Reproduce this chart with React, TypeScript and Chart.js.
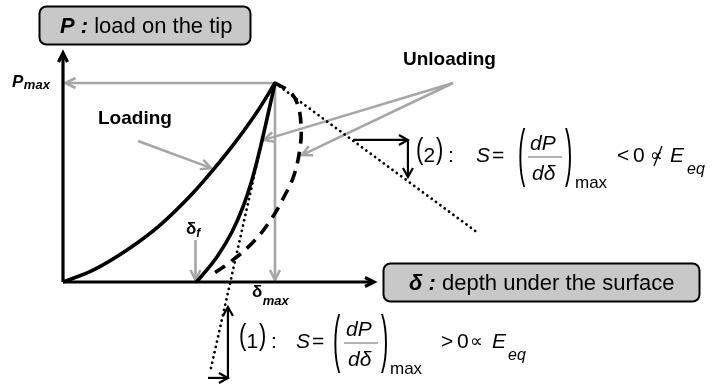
import React, { useEffect, useRef } from "react";
import { Chart, registerables } from "chart.js";
Chart.register(...registerables);

// ---- data (δ / δmax , P / Pmax) ----
const loadingDelta = [0, 0.142, 0.302, 0.458, 0.613, 0.708, 0.821, 0.915, 1.0];
const loadingP = [0, 0.06, 0.161, 0.286, 0.447, 0.563, 0.714, 0.854, 1.0];

const unloadDelta = [0.63, 0.726, 0.797, 0.849, 0.887, 0.92, 0.961, 1.0];
const unloadP = [0, 0.126, 0.251, 0.377, 0.497, 0.628, 0.814, 1.0];

const dashedDelta = [1.0, 1.071, 1.108, 1.123, 1.118, 1.09, 1.047, 0.986, 0.906, 0.802, 0.693];
const dashedP = [1.0, 0.955, 0.889, 0.779, 0.673, 0.538, 0.437, 0.322, 0.211, 0.111, 0.03];

const tangent1Delta = [1.0, 0.693];
const tangent1P = [1.0, -0.457];

const tangent2Delta = [1.0, 1.958];
const tangent2P = [1.0, 0.246];

// arrows: [δ1, P1, δ2, P2]  (head at second point)
const axisArrows = [
  [0, 0, 0, 1.151],
  [0, 0, 1.467, 0],
];
const grayArrows = [
  [1.0, 1.0, 0.012, 1.0],
  [1.0, 1.0, 1.0, 0.01],
  [0.625, 0.211, 0.625, 0.01],
  [0.354, 0.709, 0.698, 0.573],
  [1.84, 1.0, 0.948, 0.714],
  [1.84, 1.0, 1.127, 0.638],
];
const blackArrows = [
  [1.368, 0.714, 1.627, 0.714],
  [1.627, 0.714, 1.627, 0.528],
  [0.684, -0.482, 0.778, -0.482],
  [0.778, -0.482, 0.778, -0.126],
];

const zip = (xs: number[], ys: number[]) => xs.map((x, i) => ({ x, y: ys[i] }));

const FONT = '"Liberation Sans", Arial, sans-serif';
const GRAY = "#a6a6a6";

function drawArrow(
  ctx: CanvasRenderingContext2D,
  x1: number, y1: number, x2: number, y2: number,
  color: string, width: number, len: number, half: number
) {
  const a = Math.atan2(y2 - y1, x2 - x1);
  ctx.save();
  ctx.strokeStyle = color;
  ctx.lineWidth = width;
  ctx.lineCap = "butt";
  ctx.beginPath();
  ctx.moveTo(x1, y1);
  ctx.lineTo(x2 - Math.cos(a) * 1, y2 - Math.sin(a) * 1);
  ctx.stroke();
  ctx.lineJoin = "miter";
  ctx.beginPath();
  const bx = x2 - Math.cos(a) * len;
  const by = y2 - Math.sin(a) * len;
  const nx = -Math.sin(a) * half;
  const ny = Math.cos(a) * half;
  ctx.moveTo(bx + nx, by + ny);
  ctx.lineTo(x2, y2);
  ctx.lineTo(bx - nx, by - ny);
  ctx.stroke();
  ctx.restore();
}

function txt(ctx: CanvasRenderingContext2D, s: string, x: number, y: number, font: string, color = "#000") {
  ctx.font = font;
  ctx.fillStyle = color;
  ctx.textAlign = "left";
  ctx.textBaseline = "alphabetic";
  ctx.fillText(s, x, y);
  return x + ctx.measureText(s).width;
}

function paren(ctx: CanvasRenderingContext2D, ch: string, x: number, top: number, bottom: number) {
  const f = 22;
  const s = (bottom - top) / (0.94 * f);
  ctx.save();
  ctx.translate(x, top + 0.728 * f * s);
  ctx.scale(1, s);
  ctx.font = `${f}px ${FONT}`;
  ctx.fillStyle = "#000";
  ctx.textBaseline = "alphabetic";
  ctx.fillText(ch, 0, 0);
  ctx.restore();
}

function box(ctx: CanvasRenderingContext2D, x: number, y: number, w: number, h: number) {
  ctx.save();
  ctx.beginPath();
  (ctx as any).roundRect(x, y, w, h, 7);
  ctx.fillStyle = "#c8c8c8";
  ctx.fill();
  ctx.lineWidth = 2;
  ctx.strokeStyle = "#000";
  ctx.stroke();
  ctx.restore();
}

function formula(
  ctx: CanvasRenderingContext2D,
  o: { base: number; num: string; rel: string; prop: string; negate: boolean; dx: number[] }
) {
  const [xLab, xS, xEq, xPl, xNum, xDen, xPr, xMax, xRel, xZero, xProp, xE, xSub] = o.dx;
  const b = o.base;
  const reg = `21px ${FONT}`;
  const it = `italic 21px ${FONT}`;
  // "(n) :"
  paren(ctx, "(", xLab, b - 24, b + 3);
  txt(ctx, o.num, xLab + 7.5, b, reg);
  paren(ctx, ")", xLab + 20, b - 24, b + 3);
  txt(ctx, ":", xLab + 32, b, reg);
  txt(ctx, "S", xS, b, it);
  txt(ctx, "=", xEq, b, reg);
  paren(ctx, "(", xPl, b - 34, b + 25);
  txt(ctx, "dP", xNum, b - 12, `italic 21px ${FONT}`);
  ctx.save();
  ctx.strokeStyle = "#999";
  ctx.lineWidth = 1.6;
  ctx.beginPath();
  ctx.moveTo(xNum - 2, b - 5);
  ctx.lineTo(xNum + 32, b - 5);
  ctx.stroke();
  ctx.restore();
  txt(ctx, "dδ", xDen, b + 18, `italic 21px ${FONT}`);
  paren(ctx, ")", xPr, b - 34, b + 25);
  txt(ctx, "max", xMax, b + 26, `17px ${FONT}`);
  txt(ctx, o.rel, xRel, b, reg);
  txt(ctx, "0", xZero, b, reg);
  txt(ctx, o.prop, xProp, b - 1, `18px "DejaVu Sans", ${FONT}`);
  if (o.negate) {
    ctx.save();
    ctx.strokeStyle = "#000";
    ctx.lineWidth = 1.3;
    ctx.beginPath();
    ctx.moveTo(xProp + 12, b - 16);
    ctx.lineTo(xProp + 4, b + 4);
    ctx.stroke();
    ctx.restore();
  }
  txt(ctx, "E", xE, b, it);
  txt(ctx, "eq", xSub, b + 12, `italic 16px ${FONT}`);
}

const annotations = {
  id: "annotations",
  beforeDatasetsDraw(chart: any) {
    const ctx: CanvasRenderingContext2D = chart.ctx;
    const X = (v: number) => chart.scales.x.getPixelForValue(v);
    const Y = (v: number) => chart.scales.y.getPixelForValue(v);
    grayArrows.forEach(([a, b, c, d]) => drawArrow(ctx, X(a), Y(b), X(c), Y(d), GRAY, 2.6, 10, 5));
    axisArrows.forEach(([a, b, c, d]) => drawArrow(ctx, X(a), Y(b), X(c), Y(d), "#000", 3.2, 9, 4.5));
  },
  afterDatasetsDraw(chart: any) {
    const ctx: CanvasRenderingContext2D = chart.ctx;
    const X = (v: number) => chart.scales.x.getPixelForValue(v);
    const Y = (v: number) => chart.scales.y.getPixelForValue(v);
    blackArrows.forEach(([a, b, c, d]) => drawArrow(ctx, X(a), Y(b), X(c), Y(d), "#000", 2.2, 9, 5));

    // boxes
    box(ctx, 39.5, 6.5, 211, 38);
    let x = txt(ctx, "P : ", 60, 33, `italic bold 22px ${FONT}`);
    txt(ctx, "load on the tip", x, 33, `22px ${FONT}`);

    box(ctx, 383.5, 263.5, 316, 38);
    x = txt(ctx, "δ : ", 409, 290, `italic bold 22px ${FONT}`);
    txt(ctx, "depth under the surface", x, 290, `22px ${FONT}`);

    // labels
    x = txt(ctx, "P", 12, 87, `italic bold 17px ${FONT}`);
    txt(ctx, "max", x + 0.5, 89, `italic bold 13px ${FONT}`);
    txt(ctx, "Loading", 98, 124, `bold 19px ${FONT}`);
    txt(ctx, "Unloading", 403, 65, `bold 19px ${FONT}`);
    x = txt(ctx, "δ", 186, 234, `bold 17px ${FONT}`);
    txt(ctx, "f", x, 237, `italic bold 12px ${FONT}`);
    x = txt(ctx, "δ", 252, 297, `bold 17px ${FONT}`);
    txt(ctx, "max", x + 0.5, 305, `italic bold 13px ${FONT}`);

    formula(ctx, {
      base: 162, num: "2", rel: "<", prop: "∝", negate: true,
      dx: [416, 476, 492, 518, 530, 532, 565, 575, 617, 633, 650, 670, 687],
    });
    formula(ctx, {
      base: 348, num: "1", rel: ">", prop: "∝", negate: false,
      dx: [239, 296, 312, 333, 346, 348, 381, 390, 441, 457, 470, 492, 508],
    });
  },
};

export default function App() {
  const ref = useRef<HTMLCanvasElement | null>(null);
  useEffect(() => {
    document.body.style.margin = "0";
    if (!ref.current) return;
    const solid = { borderColor: "#000", pointRadius: 0, showLine: true, fill: false, clip: false as any };
    const chart = new Chart(ref.current, {
      type: "scatter",
      data: {
        datasets: [
          { ...solid, data: zip(loadingDelta, loadingP), borderWidth: 3.6, cubicInterpolationMode: "monotone" },
          { ...solid, data: zip(unloadDelta, unloadP), borderWidth: 3.6, cubicInterpolationMode: "monotone" },
          { ...solid, data: zip(dashedDelta, dashedP), borderWidth: 3.6, tension: 0.4, borderDash: [12, 8] },
          { ...solid, data: zip(tangent1Delta, tangent1P), borderWidth: 2.8, borderDash: [0.01, 5.4], borderCapStyle: "round" },
          { ...solid, data: zip(tangent2Delta, tangent2P), borderWidth: 2.8, borderDash: [0.01, 5.4], borderCapStyle: "round" },
        ] as any,
      },
      options: {
        animation: false,
        responsive: false,
        maintainAspectRatio: false,
        events: [],
        layout: { padding: 0 },
        plugins: { legend: { display: false }, tooltip: { enabled: false } },
        scales: {
          x: { type: "linear", display: false, min: -63 / 212, max: (720 - 63) / 212 },
          y: { type: "linear", display: false, min: -(385 - 282) / 199, max: 282 / 199 },
        },
      },
      plugins: [annotations],
    });
    return () => chart.destroy();
  }, []);
  return (
    <div style={{ width: 720, height: 385, background: "#fff" }}>
      <canvas ref={ref} width={720} height={385} style={{ display: "block" }} />
    </div>
  );
}
